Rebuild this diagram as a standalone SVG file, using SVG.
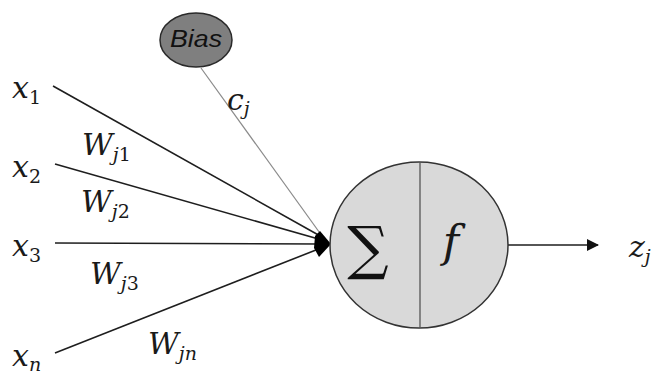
<svg xmlns="http://www.w3.org/2000/svg" width="653" height="378" viewBox="0 0 653 378">
<style>
.m{font-family:'DejaVu Serif','Liberation Serif',serif;font-style:italic;fill:#1a1a1a}
.big{font-size:30px}
.sub{font-size:19px}
.ln{stroke:#1e1e1e;stroke-width:1.6;fill:none}
</style>
<defs>
<marker id="ah" markerWidth="12" markerHeight="12" refX="11" refY="6" orient="auto" markerUnits="userSpaceOnUse">
<path d="M0,0 L12,6 L0,12 Z" fill="#111"/>
</marker>
</defs>
<rect width="653" height="378" fill="#fff"/>
<g id="connectors">
<line class="ln" x1="53" y1="86" x2="322" y2="237"/>
<line class="ln" x1="55" y1="164" x2="322" y2="240"/>
<line class="ln" x1="55" y1="243" x2="321" y2="244"/>
<line class="ln" x1="55" y1="353" x2="321" y2="248"/>
<line x1="201" y1="68" x2="322" y2="236" stroke="#8a8a8a" stroke-width="1.2"/>
<path d="M331,244 L320,231 L315,236 L314,248 L319,257 Z" fill="#000"/>
<line class="ln" x1="508" y1="245" x2="598" y2="245" marker-end="url(#ah)"/>
</g>
<g id="bias">
<ellipse cx="196" cy="40" rx="36" ry="27" fill="#7f7f7f" stroke="#2a2a2a" stroke-width="1.5"/>
<text x="196" y="47" text-anchor="middle" font-family="Liberation Sans, Arial, sans-serif" font-style="italic" font-size="23" fill="#111" textLength="52" lengthAdjust="spacingAndGlyphs">Bias</text>
</g>
<g id="neuron">
<ellipse cx="419" cy="245" rx="89" ry="83" fill="#d9d9d9" stroke="#333" stroke-width="1.5"/>
<line x1="420" y1="162" x2="420" y2="328" stroke="#555" stroke-width="1.3"/>
<text x="368" y="268" text-anchor="middle" font-family="DejaVu Serif, serif" font-size="58" fill="#111">∑</text>
<text class="m" x="451" y="257" text-anchor="middle" font-size="44">f</text>
</g>
<g id="labels">
<text class="m" x="12" y="98"><tspan class="big">x</tspan><tspan class="sub" dy="6" font-style="normal">1</tspan></text>
<text class="m" x="12" y="177"><tspan class="big">x</tspan><tspan class="sub" dy="6" font-style="normal">2</tspan></text>
<text class="m" x="12" y="256"><tspan class="big">x</tspan><tspan class="sub" dy="6" font-style="normal">3</tspan></text>
<text class="m" x="12" y="366"><tspan class="big">x</tspan><tspan class="sub" dy="5">n</tspan></text>
<text class="m" x="82" y="155"><tspan class="big">W</tspan><tspan class="sub" dy="6">j</tspan><tspan class="sub" font-style="normal">1</tspan></text>
<text class="m" x="81" y="212"><tspan class="big">W</tspan><tspan class="sub" dy="6">j</tspan><tspan class="sub" font-style="normal">2</tspan></text>
<text class="m" x="90" y="284"><tspan class="big">W</tspan><tspan class="sub" dy="6">j</tspan><tspan class="sub" font-style="normal">3</tspan></text>
<text class="m" x="148" y="354"><tspan class="big">W</tspan><tspan class="sub" dy="6">jn</tspan></text>
<text class="m" x="227" y="110"><tspan class="big">c</tspan><tspan class="sub" dy="5">j</tspan></text>
<text class="m" x="629" y="257"><tspan class="big">z</tspan><tspan class="sub" dy="6">j</tspan></text>
</g>
</svg>
